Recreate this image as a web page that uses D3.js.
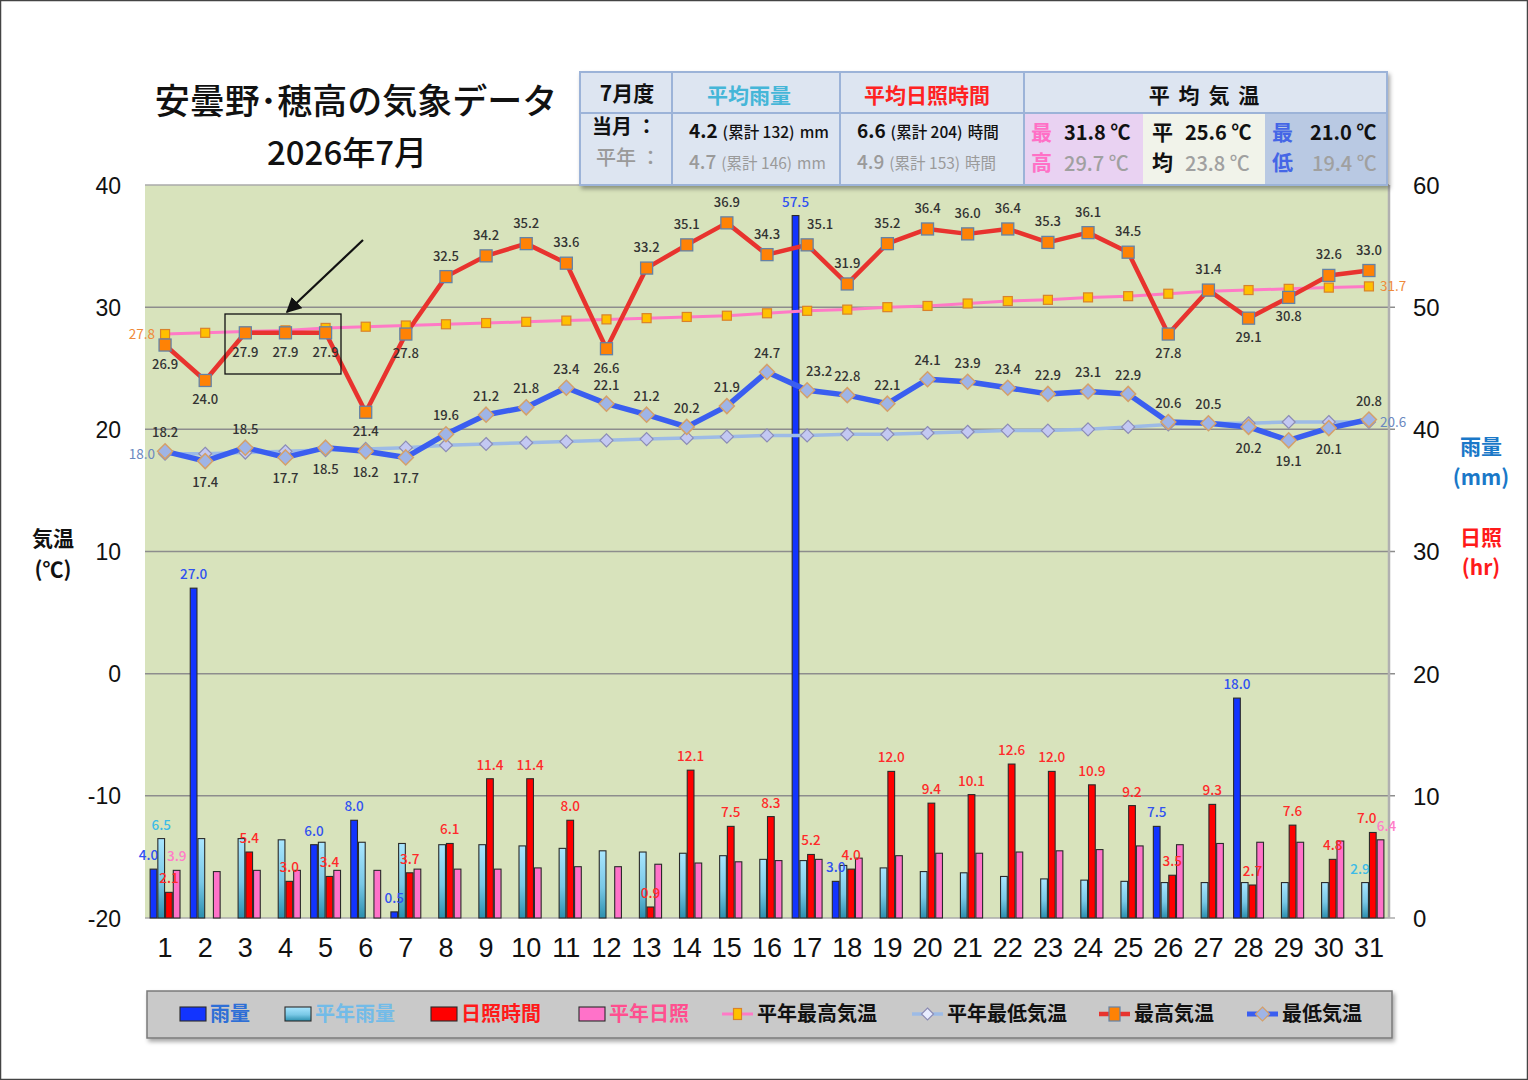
<!DOCTYPE html>
<html><head><meta charset="utf-8">
<script src="https://cdn.jsdelivr.net/npm/d3@7"></script>
<style>
html,body{margin:0;padding:0;background:#fff;}
svg{display:block;}
</style></head>
<body>
<svg id="chart" width="1528" height="1080"></svg>
<script>
// ---------- DATA ----------
const days = ["1","2","3","4","5","6","7","8","9","10","11","12","13","14","15","16","17","18","19","20","21","22","23","24","25","26","27","28","29","30","31"];
const rain       = [4.0,27.0,0,0,6.0,8.0,0.5,0,0,0,0,0,0,0,0,0,57.5,3.0,0,0,0,0,0,0,0,7.5,0,18.0,0,0,0];
const normalRain = [6.5,6.5,6.5,6.4,6.2,6.2,6.1,6.0,6.0,5.9,5.7,5.5,5.4,5.3,5.1,4.8,4.7,4.3,4.1,3.8,3.7,3.4,3.2,3.1,3.0,2.9,2.9,2.9,2.9,2.9,2.9];
const sun        = [2.1,0,5.4,3.0,3.4,0,3.7,6.1,11.4,11.4,8.0,0,0.9,12.1,7.5,8.3,5.2,4.0,12.0,9.4,10.1,12.6,12.0,10.9,9.2,3.5,9.3,2.7,7.6,4.8,7.0];
const normalSun  = [3.9,3.8,3.9,3.9,3.9,3.9,4.0,4.0,4.0,4.1,4.2,4.2,4.4,4.5,4.6,4.7,4.8,4.9,5.1,5.3,5.3,5.4,5.5,5.6,5.9,6.0,6.1,6.2,6.2,6.3,6.4];
const maxTemp    = [26.9,24.0,27.9,27.9,27.9,21.4,27.8,32.5,34.2,35.2,33.6,26.6,33.2,35.1,36.9,34.3,35.1,31.9,35.2,36.4,36.0,36.4,35.3,36.1,34.5,27.8,31.4,29.1,30.8,32.6,33.0];
const minTemp    = [18.2,17.4,18.5,17.7,18.5,18.2,17.7,19.6,21.2,21.8,23.4,22.1,21.2,20.2,21.9,24.7,23.2,22.8,22.1,24.1,23.9,23.4,22.9,23.1,22.9,20.6,20.5,20.2,19.1,20.1,20.8];
const normalMax  = [27.8,27.9,28.0,28.1,28.3,28.4,28.5,28.6,28.7,28.8,28.9,29.0,29.1,29.2,29.3,29.5,29.7,29.8,30.0,30.1,30.3,30.5,30.6,30.8,30.9,31.1,31.3,31.4,31.5,31.6,31.7];
const normalMin  = [18.0,18.0,18.1,18.2,18.3,18.4,18.5,18.7,18.8,18.9,19.0,19.1,19.2,19.3,19.4,19.5,19.5,19.6,19.6,19.7,19.8,19.9,19.9,20.0,20.2,20.4,20.5,20.5,20.6,20.6,20.6];
const leftTicks  = [-20,-10,0,10,20,30,40];
const rightTicks = [0,10,20,30,40,50,60];
// label placement (style, not data)
const maxBelowDays = ["1","2","3","4","5","6","7","12","26","28","29"];
const minBelowDays = ["2","4","5","6","7","28","29","30"];

// ---------- LAYOUT ----------
const svg = d3.select("#chart");
const P = {l:145, r:1389, t:185, b:918};
const JP = "'Noto Sans CJK JP','Noto Sans',sans-serif";
const NUM = "'Liberation Sans',Arial,sans-serif";

svg.append("rect").attr("x",0.5).attr("y",0.5).attr("width",1527).attr("height",1079)
  .attr("fill","#fff").attr("stroke","#444").attr("stroke-width",1.5);

const x = d3.scaleBand().domain(days).range([P.l,P.r]).paddingInner(0.23).paddingOuter(0.115);
const sub = d3.scaleBand().domain(["rain","nrain","sun","nsun"]).range([0,x.bandwidth()]);
const yL = d3.scaleLinear().domain([-20,40]).range([P.b,P.t]);
const yR = d3.scaleLinear().domain([0,60]).range([P.b,P.t]);
const cx = d => x(d)+x.bandwidth()/2;

const defs = svg.append("defs");
const g1 = defs.append("linearGradient").attr("id","lb").attr("x1",0).attr("y1",0).attr("x2",0).attr("y2",1);
g1.append("stop").attr("offset","0%").attr("stop-color","#a9e6ff");
g1.append("stop").attr("offset","55%").attr("stop-color","#79c8e6");
g1.append("stop").attr("offset","100%").attr("stop-color","#2b8fae");
const sh = defs.append("filter").attr("id","shadow").attr("x","-5%").attr("y","-20%").attr("width","110%").attr("height","150%");
sh.append("feDropShadow").attr("dx",2).attr("dy",3).attr("stdDeviation",2).attr("flood-color","#000").attr("flood-opacity",0.35);

svg.append("rect").attr("x",P.l).attr("y",P.t).attr("width",P.r-P.l).attr("height",P.b-P.t)
  .attr("fill","#d8e3bc");
svg.append("g").selectAll("line").data(leftTicks.filter(t=>t>-20&&t<40)).join("line")
  .attr("x1",P.l).attr("x2",P.r+6).attr("y1",d=>yL(d)).attr("y2",d=>yL(d))
  .attr("stroke","#8d8d8d").attr("stroke-width",1.5);
svg.append("line").attr("x1",P.l).attr("x2",P.r+6).attr("y1",P.b).attr("y2",P.b).attr("stroke","#aaa").attr("stroke-width",1.5);
svg.append("line").attr("x1",P.l).attr("x2",P.r).attr("y1",P.t).attr("y2",P.t).attr("stroke","#aaa").attr("stroke-width",1.5);
svg.append("line").attr("x1",P.r).attr("x2",P.r).attr("y1",P.t).attr("y2",P.b).attr("stroke","#b0b0b0").attr("stroke-width",2.5);

// axes
const axL = svg.append("g").attr("transform",`translate(${P.l-24},0)`)
  .call(d3.axisLeft(yL).tickValues(leftTicks).tickFormat(d=>String(d)).tickSize(0).tickPadding(0));
axL.select(".domain").remove();
axL.selectAll("text").attr("font-family",NUM).attr("font-size",23).attr("fill","#111").attr("dy","0.35em");
const axR = svg.append("g").attr("transform",`translate(${P.r+24},0)`)
  .call(d3.axisRight(yR).tickValues(rightTicks).tickFormat(d=>String(d)).tickSize(0).tickPadding(0));
axR.select(".domain").remove();
axR.selectAll("text").attr("font-family",NUM).attr("font-size",24).attr("fill","#111").attr("dy","0.35em");
const axB = svg.append("g").attr("transform",`translate(0,${P.b+13})`)
  .call(d3.axisBottom(x).tickSize(0).tickPadding(6));
axB.select(".domain").remove();
axB.selectAll("text").attr("font-family",NUM).attr("font-size",27).attr("fill","#111").attr("dy","0.75em");

const atit = (t,xx,yy,c)=>svg.append("text").attr("x",xx).attr("y",yy).attr("text-anchor","middle")
  .attr("font-family",JP).attr("font-weight","bold").attr("font-size",21).attr("fill",c).text(t);
atit("気温",53,546,"#111"); atit("(℃)",53,577,"#111");
atit("雨量",1481,454,"#1a78c8"); atit("(mm)",1481,485,"#1a78c8");
atit("日照",1481,545,"#ff1a1a"); atit("(hr)",1481,575,"#ff1a1a");

// ---------- BARS ----------
const series = [
  {key:"rain", vals:rain, fill:"#1234ff"},
  {key:"nrain", vals:normalRain, fill:"url(#lb)"},
  {key:"sun", vals:sun, fill:"#ff0000"},
  {key:"nsun", vals:normalSun, fill:"#ff72c9"}
];
const barG = svg.append("g");
series.forEach(s=>{
  barG.selectAll(null).data(days.map((d,i)=>({d,v:s.vals[i]})).filter(o=>o.v>0)).join("rect")
    .attr("x",o=>x(o.d)+sub(s.key)+0.5).attr("width",sub.bandwidth()-1)
    .attr("y",o=>yR(o.v)).attr("height",o=>yR(0)-yR(o.v))
    .attr("fill",s.fill).attr("stroke","#2a2a2a").attr("stroke-width",1.1);
});

const lblG = svg.append("g").attr("font-family",JP).attr("font-size",13.5).attr("font-weight",500).attr("text-anchor","middle");
function barLabels(key, vals, color, filterFn, dxFn){
  lblG.selectAll(null).data(days.map((d,i)=>({d,i,v:vals[i]})).filter(filterFn)).join("text")
    .attr("x",o=>x(o.d)+sub(key)+sub.bandwidth()/2+(dxFn?dxFn(o):0)).attr("y",o=>yR(o.v)-9)
    .attr("fill",color).text(o=>o.v.toFixed(1));
}
barLabels("rain",rain,"#3152f0",o=>o.v>0,o=>o.i===0?-5:0);
barLabels("sun",sun,"#ff2a2a",o=>o.v>0,o=>o.i===30?-6:0);
barLabels("nrain",normalRain,"#3cbbe6",o=>o.i===0||o.i===30,o=>o.i===30?-5:0);
barLabels("nsun",normalSun,"#ff7cc8",o=>o.i===0||o.i===30,o=>o.i===30?6:0);

// ---------- LINES ----------
const lineGen = vals => d3.line().x((d,i)=>cx(days[i])).y(d=>yL(d))(vals);
svg.append("path").attr("d",lineGen(normalMin)).attr("fill","none").attr("stroke","#9dbbe6").attr("stroke-width",3.5);
svg.append("path").attr("d",lineGen(normalMax)).attr("fill","none").attr("stroke","#ff7ac6").attr("stroke-width",3);
svg.append("path").attr("d",lineGen(minTemp)).attr("fill","none").attr("stroke","#3a5ef0").attr("stroke-width",5.5).attr("stroke-linejoin","round");
svg.append("path").attr("d",lineGen(maxTemp)).attr("fill","none").attr("stroke","#e8332e").attr("stroke-width",4.5).attr("stroke-linejoin","round");

const diamond = (cxv,cyv,r)=>`M${cxv},${cyv-r}L${cxv+r},${cyv}L${cxv},${cyv+r}L${cxv-r},${cyv}Z`;
svg.append("g").selectAll("path").data(normalMin).join("path")
  .attr("d",(d,i)=>diamond(cx(days[i]),yL(d),6.5)).attr("fill","#c3c8f2").attr("stroke","#8c8cb4").attr("stroke-width",1.2);
svg.append("g").selectAll("rect").data(normalMax).join("rect")
  .attr("x",(d,i)=>cx(days[i])-4.5).attr("y",d=>yL(d)-4.5).attr("width",9).attr("height",9)
  .attr("fill","#ffc000").attr("stroke","#d9822b").attr("stroke-width",1.2);
svg.append("g").selectAll("path").data(minTemp).join("path")
  .attr("d",(d,i)=>diamond(cx(days[i]),yL(d),7.5)).attr("fill","#9fb4e6").attr("stroke","#d4a06a").attr("stroke-width",1.5);
svg.append("g").selectAll("rect").data(maxTemp).join("rect")
  .attr("x",(d,i)=>cx(days[i])-6).attr("y",d=>yL(d)-6).attr("width",12).attr("height",12)
  .attr("fill","#ff8205").attr("stroke","#6482a6").attr("stroke-width",1.3);

const tG = svg.append("g").attr("font-family",JP).attr("font-size",13).attr("font-weight",500).attr("fill","#333").attr("text-anchor","middle");
tG.selectAll(null).data(maxTemp).join("text")
  .attr("x",(d,i)=>cx(days[i]) + (days[i]==="17"?13:0))
  .attr("y",(d,i)=>maxBelowDays.includes(days[i]) ? yL(d)+24 : yL(d)-16)
  .text(d=>d.toFixed(1));
tG.selectAll(null).data(minTemp).join("text")
  .attr("x",(d,i)=>cx(days[i]) + (days[i]==="17"?12:0))
  .attr("y",(d,i)=>minBelowDays.includes(days[i]) ? yL(d)+26 : yL(d)-14)
  .text(d=>d.toFixed(1));
const endLbl = (v,i,anchor,dx,c)=>svg.append("text").attr("x",cx(days[i])+dx).attr("y",yL(v)+5)
  .attr("text-anchor",anchor).attr("font-family",JP).attr("font-size",13.5).attr("fill",c).text(v.toFixed(1));
endLbl(normalMax[0],0,"end",-10,"#ef8a3a");
endLbl(normalMax[30],30,"start",11,"#ef8a3a");
endLbl(normalMin[0],0,"end",-10,"#6a88c0");
endLbl(normalMin[30],30,"start",11,"#6a88c0");

// annotation box & arrow
svg.append("rect").attr("x",225).attr("y",314).attr("width",116).attr("height",60)
  .attr("fill","none").attr("stroke","#111").attr("stroke-width",1.3);
defs.append("marker").attr("id","ah").attr("viewBox","0 0 10 10").attr("refX",9).attr("refY",5)
  .attr("markerWidth",7).attr("markerHeight",7).attr("orient","auto")
  .append("path").attr("d","M0,0L10,5L0,10Z").attr("fill","#111");
svg.append("line").attr("x1",363).attr("y1",240).attr("x2",287).attr("y2",312)
  .attr("stroke","#111").attr("stroke-width",2.2).attr("marker-end","url(#ah)");

// ---------- TITLE ----------
svg.append("text").attr("x",356).attr("y",114).attr("text-anchor","middle").attr("font-family",JP)
  .attr("font-weight",500).attr("font-size",35).attr("fill","#111").text("安曇野･穂高の気象データ");
svg.append("text").attr("x",347).attr("y",165).attr("text-anchor","middle").attr("font-family",JP)
  .attr("font-weight",500).attr("font-size",33).attr("fill","#111").text("2026年7月");

// ---------- INFO TABLE ----------
const T = svg.append("g");
T.append("rect").attr("x",580).attr("y",72).attr("width",807).attr("height",113)
  .attr("fill","#dde5f1").attr("stroke","#9cb3d8").attr("stroke-width",2).attr("filter","url(#shadow)");
T.append("rect").attr("x",1024).attr("y",113).attr("width",119).attr("height",71).attr("fill","#e9d2f2");
T.append("rect").attr("x",1143).attr("y",113).attr("width",122).attr("height",71).attr("fill","#f1f3ea");
T.append("rect").attr("x",1265).attr("y",113).attr("width",121).attr("height",71).attr("fill","#b9c9e3");
T.append("line").attr("x1",580).attr("x2",1387).attr("y1",113).attr("y2",113).attr("stroke","#9cb3d8").attr("stroke-width",2);
[672,840,1024].forEach(xx=>T.append("line").attr("x1",xx).attr("x2",xx).attr("y1",72).attr("y2",185).attr("stroke","#9cb3d8").attr("stroke-width",2));
const tt = (t,xx,yy,o={})=>T.append("text").attr("x",xx).attr("y",yy).attr("font-family",JP)
  .attr("font-size",o.s||20).attr("font-weight",o.w||"bold").attr("fill",o.c||"#111")
  .attr("text-anchor",o.a||"start").attr("letter-spacing",o.ls||0).text(t);
tt("7月度",627,101,{a:"middle",s:21});
tt("平均雨量",749,103,{a:"middle",s:21,c:"#45b6d8"});
tt("平均日照時間",927,103,{a:"middle",s:21,c:"#ff2222"});
tt("平 均 気 温",1205,103,{a:"middle",s:21,ls:2});
tt("当月 ：",592,134,{s:20});
tt("平年 ：",596,165,{s:20,c:"#9a9a9a",w:500});
function valRow(xx,yy,v,mid,unit,gray){
  const c = gray?"#9a9a9a":"#111";
  const t = T.append("text").attr("x",xx).attr("y",yy).attr("font-family",JP).attr("fill",c);
  t.append("tspan").attr("font-size",19).attr("font-weight",gray?500:"bold").text(v);
  t.append("tspan").attr("font-size",15.5).attr("font-weight",gray?400:500).attr("dx",5).text(mid);
  t.append("tspan").attr("font-size",15.5).attr("font-weight",gray?400:500).attr("dx",5).text(unit);
}
valRow(689,138,"4.2","(累計 132)","mm",false);
valRow(689,169,"4.7","(累計 146)","mm",true);
valRow(857,138,"6.6","(累計 204)","時間",false);
valRow(857,169,"4.9","(累計 153)","時間",true);
tt("最",1031,140,{s:21,c:"#ff70c6"}); tt("高",1031,170,{s:21,c:"#ff70c6"});
tt("31.8 ℃",1064,140,{s:20}); tt("29.7 ℃",1064,171,{s:20,c:"#a0a0a0",w:500});
tt("平",1152,140,{s:21}); tt("均",1152,170,{s:21});
tt("25.6 ℃",1185,140,{s:20}); tt("23.8 ℃",1185,171,{s:20,c:"#a0a0a0",w:500});
tt("最",1272,140,{s:21,c:"#4566e6"}); tt("低",1272,170,{s:21,c:"#4566e6"});
tt("21.0 ℃",1310,140,{s:20}); tt("19.4 ℃",1312,171,{s:20,c:"#a0a0a0",w:500});

// ---------- LEGEND ----------
const L = svg.append("g");
L.append("rect").attr("x",147).attr("y",991).attr("width",1245).attr("height",47)
  .attr("fill","#c9c9c9").attr("stroke","#7a7a7a").attr("stroke-width",1.5).attr("filter","url(#shadow)");
const ly = 1014;
const legItems = [
  {t:"雨量", c:"#2e6fd6", sw:"#1234ff", x:180},
  {t:"平年雨量", c:"#72bbe8", sw:"url(#lb)", x:285},
  {t:"日照時間", c:"#ff1a1a", sw:"#ff0000", x:431},
  {t:"平年日照", c:"#ff4f8f", sw:"#ff72c9", x:579}
];
legItems.forEach(it=>{
  L.append("rect").attr("x",it.x).attr("y",ly-7).attr("width",26).attr("height",14)
    .attr("fill",it.sw).attr("stroke","#2a2a2a").attr("stroke-width",1.1);
  L.append("text").attr("x",it.x+30).attr("y",ly+7).attr("font-family",JP).attr("font-weight","bold")
    .attr("font-size",20).attr("fill",it.c).text(it.t);
});
const lineItems = [
  {t:"平年最高気温", x:722, lc:"#ff7ac6", lw:3, m:"sq", mf:"#ffc000", ms:"#d9822b", r:4},
  {t:"平年最低気温", x:912, lc:"#9dbbe6", lw:3.5, m:"di", mf:"#e8ecff", ms:"#8c8cb4", r:6},
  {t:"最高気温", x:1099, lc:"#e8332e", lw:4.5, m:"sq", mf:"#ff8205", ms:"#6482a6", r:5.5},
  {t:"最低気温", x:1247, lc:"#3a5ef0", lw:5, m:"di", mf:"#9fb4e6", ms:"#d4a06a", r:7}
];
lineItems.forEach(it=>{
  L.append("line").attr("x1",it.x).attr("x2",it.x+31).attr("y1",ly).attr("y2",ly).attr("stroke",it.lc).attr("stroke-width",it.lw);
  const mx = it.x+15.5;
  if(it.m==="sq") L.append("rect").attr("x",mx-it.r).attr("y",ly-it.r-1.5).attr("width",it.r*2).attr("height",it.r*2+3)
    .attr("fill",it.mf).attr("stroke",it.ms).attr("stroke-width",1.2);
  else L.append("path").attr("d",diamond(mx,ly,it.r)).attr("fill",it.mf).attr("stroke",it.ms).attr("stroke-width",1.2);
  L.append("text").attr("x",it.x+35).attr("y",ly+7).attr("font-family",JP).attr("font-weight","bold")
    .attr("font-size",20).attr("fill","#111").text(it.t);
});
</script>
</body></html>
